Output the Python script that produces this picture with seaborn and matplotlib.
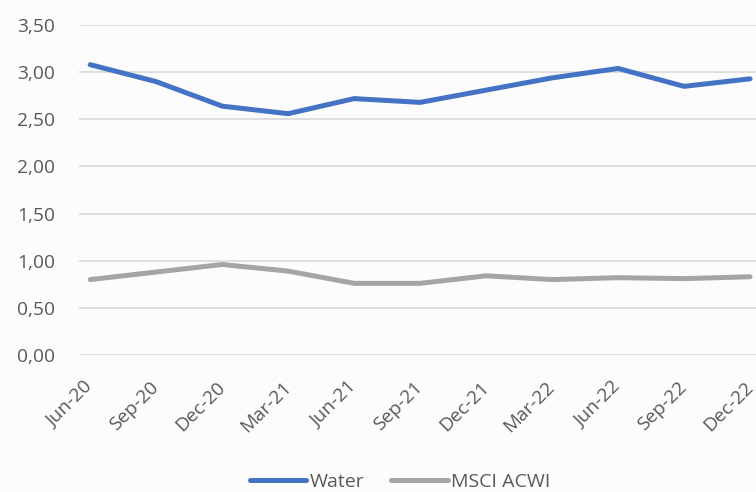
import matplotlib
matplotlib.use("Agg")
import matplotlib.pyplot as plt
import seaborn as sns
import pandas as pd
from matplotlib.ticker import FuncFormatter
from matplotlib.lines import Line2D

categories = ["Jun-20", "Sep-20", "Dec-20", "Mar-21", "Jun-21", "Sep-21",
              "Dec-21", "Mar-22", "Jun-22", "Sep-22", "Dec-22"]
water = [3.08, 2.90, 2.64, 2.56, 2.72, 2.68, 2.81, 2.94, 3.04, 2.85, 2.93]
msci_acwi = [0.80, 0.88, 0.96, 0.89, 0.76, 0.76, 0.84, 0.80, 0.82, 0.81, 0.83]
y_ticks = [0.0, 0.5, 1.0, 1.5, 2.0, 2.5, 3.0, 3.5]

sns.set_theme(style="white")
plt.rcParams["font.family"] = ["Open Sans", "DejaVu Sans"]

df = pd.DataFrame({
    "x": list(range(len(categories))) * 2,
    "value": water + msci_acwi,
    "series": ["Water"] * len(categories) + ["MSCI ACWI"] * len(categories),
})

fig = plt.figure(figsize=(7.56, 4.92), dpi=100)
fig.patch.set_facecolor("#fcfcfc")
ax = fig.add_axes([0.1045, 0.2785, 0.8955, 0.6705])
ax.set_facecolor("#fcfcfc")

sns.lineplot(data=df, x="x", y="value", hue="series",
             palette={"Water": "#4472C4", "MSCI ACWI": "#A5A5A5"},
             linewidth=3.6, ax=ax, legend=False, solid_capstyle="round")

ax.set_ylim(0, 3.5)
ax.set_xlim(-0.17, 10.09)
ax.set_yticks(y_ticks)
ax.yaxis.set_major_formatter(FuncFormatter(lambda v, p: f"{v:.2f}".replace(".", ",")))
ax.set_xticks(range(len(categories)))
ax.set_xticklabels(categories, rotation=45, ha="right", va="center",
                   rotation_mode="anchor")
ax.grid(axis="y", color="#d9d9d9", linewidth=1.2)
ax.set_axisbelow(True)
for s in ax.spines.values():
    s.set_visible(False)
ax.tick_params(axis="both", length=0, labelsize=13.8, colors="#595959")
ax.tick_params(axis="y", pad=17)
ax.tick_params(axis="x", pad=21)
ax.set_xlabel("")
ax.set_ylabel("")

handles = [Line2D([0], [0], color="#4472C4", lw=3.6, solid_capstyle="round"),
           Line2D([0], [0], color="#A5A5A5", lw=3.6, solid_capstyle="round")]
leg = fig.legend(handles, ["Water", "MSCI ACWI"], loc="center",
                 bbox_to_anchor=(0.529, 0.02), ncol=2, frameon=False,
                 fontsize=14, handlelength=2.9, handletextpad=0.15,
                 columnspacing=1.4, borderpad=0)
for t in leg.get_texts():
    t.set_color("#595959")

fig.savefig("out.png", dpi=100)
